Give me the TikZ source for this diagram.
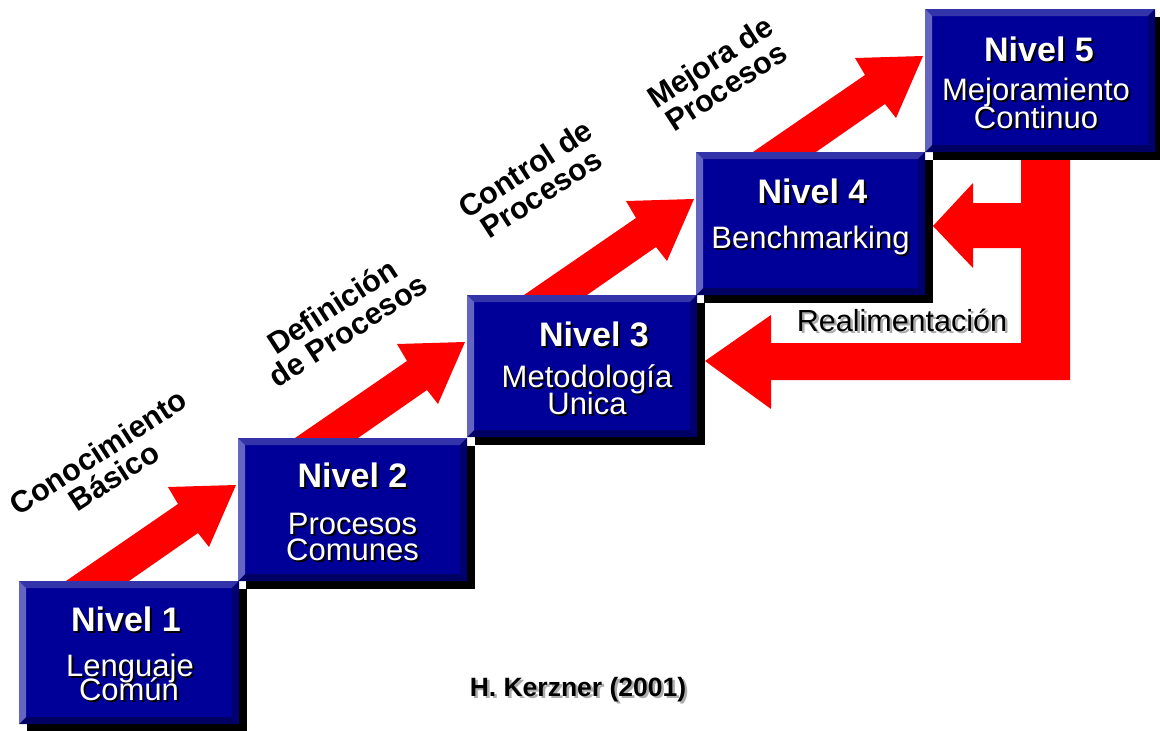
\documentclass[tikz,border=0pt]{standalone}
\usepackage{fontspec}
\setmainfont{Liberation Sans}
\usetikzlibrary{calc,backgrounds}
\definecolor{boxblue}{RGB}{0,0,153}
\definecolor{bevleft}{RGB}{100,100,195}
\definecolor{bevtop}{RGB}{51,51,170}
\definecolor{bevright}{RGB}{0,0,110}
\definecolor{bevbot}{RGB}{0,0,100}
\definecolor{arrowred}{RGB}{255,0,0}
\newcommand\shw[1]{\makebox[0pt][l]{\hspace*{2pt}\raisebox{-2pt}{\textcolor{black}{#1}}}#1}
\newcommand\shg[1]{\makebox[0pt][l]{\hspace*{2.5pt}\raisebox{-2.5pt}{\textcolor{gray!65}{#1}}}#1}
\newcommand\stepArrow[1]{%
  \begin{scope}[shift={(#1.north west)}]
    \fill[arrowred] (-172,143) -- (-60,66) -- (-70,49) -- (-2,47) -- (-29,109) -- (-40,95) -- (-109,143) -- cycle;
  \end{scope}}
\newcommand\boxShadow[1]{\fill[black] ($(#1.north west)+(8,8)$) rectangle ($(#1.south east)+(8,8)$);}
\begin{document}
\begin{tikzpicture}[x=1pt,y=-1pt,
  lvl/.style={anchor=north west, minimum width=229pt, minimum height=143pt,
    inner sep=0pt, outer sep=0pt, fill=boxblue,
    path picture={
      \path (path picture bounding box.north west) coordinate (bnw)
            (path picture bounding box.north east) coordinate (bne)
            (path picture bounding box.south west) coordinate (bsw)
            (path picture bounding box.south east) coordinate (bse);
      \fill[bevtop] (bnw) -- (bne) -- ($(bne)+(-7pt,-7pt)$) -- ($(bnw)+(7pt,-7pt)$) -- cycle;
      \fill[bevbot] (bsw) -- (bse) -- ($(bse)+(-7pt,7pt)$) -- ($(bsw)+(7pt,7pt)$) -- cycle;
      \fill[bevleft] (bnw) -- ($(bnw)+(7pt,-7pt)$) -- ($(bsw)+(7pt,7pt)$) -- (bsw) -- cycle;
      \fill[bevright] (bne) -- ($(bne)+(-7pt,-7pt)$) -- ($(bse)+(-7pt,7pt)$) -- (bse) -- cycle;
    }},
  head/.style={anchor=base, inner sep=0pt, text=white, font=\bfseries\fontsize{34}{34}\selectfont},
  sub/.style={anchor=base, inner sep=0pt, text=white, font=\fontsize{31}{31}\selectfont},
  lab/.style={rotate=33, align=center, inner sep=0pt, text=black, font=\bfseries\fontsize{30.5}{29}\selectfont},
  note/.style={anchor=base, inner sep=0pt, text=black}
]
\useasboundingbox (0,0) rectangle (1160,731);

% level boxes
\node[lvl, minimum width=220pt] (n1) at (19,581) {};
\node[lvl] (n2) at (238,438) {};
\node[lvl, minimum width=230pt, minimum height=142pt] (n3) at (467,295) {};
\node[lvl] (n4) at (696,152) {};
\node[lvl, minimum width=230pt] (n5) at (925,9) {};

% box texts
\node[head] (t1a) at ($(n1.north)+(-3,50)$) {\shw{Nivel 1}};
\node[sub]  (t1b) at ($(n1.north)+(1,95)$) {\shw{Lenguaje}};
\node[sub]  (t1c) at ($(n1.north)+(0,119)$) {\shw{Común}};

\node[head] (t2a) at ($(n2.north)+(0,49)$) {\shw{Nivel 2}};
\node[sub]  (t2b) at ($(n2.north)+(0,96)$) {\shw{Procesos}};
\node[sub]  (t2c) at ($(n2.north)+(0,122)$) {\shw{Comunes}};

\node[head] (t3a) at ($(n3.north)+(12,51)$) {\shw{Nivel 3}};
\node[sub]  (t3b) at ($(n3.north)+(5,92)$) {\shw{Metodología}};
\node[sub]  (t3c) at ($(n3.north)+(5,119)$) {\shw{Unica}};

\node[head] (t4a) at ($(n4.north)+(2,51)$) {\shw{Nivel 4}};
\node[sub]  (t4b) at ($(n4.north)+(0,96)$) {\shw{Benchmarking}};

\node[head] (t5a) at ($(n5.north)+(-1,52)$) {\shw{Nivel 5}};
\node[sub]  (t5b) at ($(n5.north)+(-4,91)$) {\shw{Mejoramiento}};
\node[sub]  (t5c) at ($(n5.north)+(-4,119)$) {\shw{Continuo}};

% rotated labels
\node[lab] (l1) at (106,464) {Conocimiento\\Básico};
\node[lab] (l2) at (340,318) {Definición\\de Procesos};
\node[lab] (l3) at (533,181) {Control de\\Procesos};
\node[lab] (l4) at (718,74) {Mejora de\\Procesos};

% notes
\node[note, font=\fontsize{30.5}{30}\selectfont] (real) at (902,331) {\shg{Realimentación}};
\node[note, font=\bfseries\fontsize{26.5}{26}\selectfont] (cred) at (578,696) {\shg{H. Kerzner (2001)}};

\begin{scope}[on background layer]
  % step arrows
  \stepArrow{n2}
  \stepArrow{n3}
  \stepArrow{n4}
  \stepArrow{n5}
  % feedback arrow
  \fill[arrowred] (1021,158) -- (1070,158) -- (1070,380) -- (771,380) -- (771,409)
     -- ($(n3.north east)+(8,66)$) -- (771,315) -- (771,343) -- (1021,343)
     -- (1021,248) -- (973,248) -- (973,268) -- ($(n4.north east)+(8,74)$)
     -- (973,183) -- (973,203) -- (1021,203) -- cycle;
  % box shadows
  \boxShadow{n1}
  \boxShadow{n2}
  \boxShadow{n3}
  \boxShadow{n4}
  \boxShadow{n5}
\end{scope}
\end{tikzpicture}
\end{document}
